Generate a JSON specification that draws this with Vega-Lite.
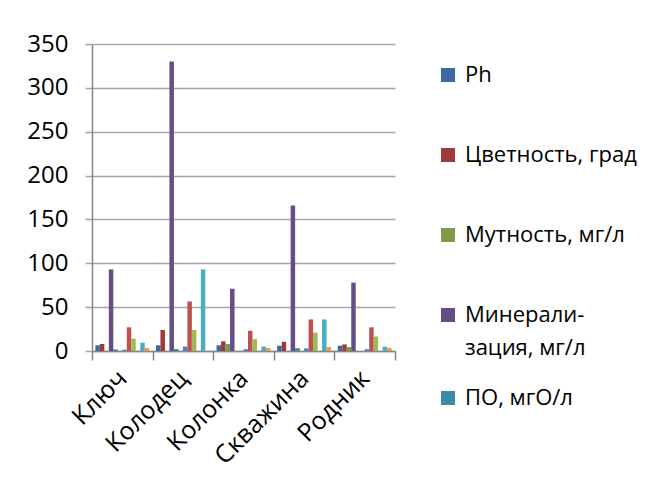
{
  "$schema": "https://vega.github.io/schema/vega-lite/v6.json",
  "width": 303,
  "height": 307,
  "autosize": {"type": "none"},
  "padding": {"left": 92, "top": 44, "right": 261, "bottom": 129},
  "background": "white",
  "data": {
    "values": [
      {"site": "Ключ", "param": "Ph", "value": 6.5},
      {"site": "Ключ", "param": "Цветность, град", "value": 8},
      {"site": "Ключ", "param": "Мутность, мг/л", "value": 0},
      {"site": "Ключ", "param": "Минерализация, мг/л", "value": 93},
      {"site": "Ключ", "param": "ПО, мгО/л", "value": 1.5},
      {"site": "Ключ", "param": "Нитриты, мг/л", "value": 0},
      {"site": "Ключ", "param": "Жесткость, мг-экв/л", "value": 1.5},
      {"site": "Ключ", "param": "Хлориды, мг/л", "value": 27},
      {"site": "Ключ", "param": "Сульфаты, мг/л", "value": 14},
      {"site": "Ключ", "param": "Железо, мг/л", "value": 0},
      {"site": "Ключ", "param": "Нитраты, мг/л", "value": 9.5},
      {"site": "Ключ", "param": "Аммоний, мг/л", "value": 3.4},

      {"site": "Колодец", "param": "Ph", "value": 6.5},
      {"site": "Колодец", "param": "Цветность, град", "value": 24},
      {"site": "Колодец", "param": "Мутность, мг/л", "value": 0},
      {"site": "Колодец", "param": "Минерализация, мг/л", "value": 330},
      {"site": "Колодец", "param": "ПО, мгО/л", "value": 2},
      {"site": "Колодец", "param": "Нитриты, мг/л", "value": 0},
      {"site": "Колодец", "param": "Жесткость, мг-экв/л", "value": 5},
      {"site": "Колодец", "param": "Хлориды, мг/л", "value": 56.5},
      {"site": "Колодец", "param": "Сульфаты, мг/л", "value": 24},
      {"site": "Колодец", "param": "Железо, мг/л", "value": 0},
      {"site": "Колодец", "param": "Нитраты, мг/л", "value": 93},
      {"site": "Колодец", "param": "Аммоний, мг/л", "value": 0},

      {"site": "Колонка", "param": "Ph", "value": 6.5},
      {"site": "Колонка", "param": "Цветность, град", "value": 11},
      {"site": "Колонка", "param": "Мутность, мг/л", "value": 8},
      {"site": "Колонка", "param": "Минерализация, мг/л", "value": 71},
      {"site": "Колонка", "param": "ПО, мгО/л", "value": 0},
      {"site": "Колонка", "param": "Нитриты, мг/л", "value": 0},
      {"site": "Колонка", "param": "Жесткость, мг-экв/л", "value": 2},
      {"site": "Колонка", "param": "Хлориды, мг/л", "value": 23},
      {"site": "Колонка", "param": "Сульфаты, мг/л", "value": 13.5},
      {"site": "Колонка", "param": "Железо, мг/л", "value": 0},
      {"site": "Колонка", "param": "Нитраты, мг/л", "value": 5},
      {"site": "Колонка", "param": "Аммоний, мг/л", "value": 3.4},

      {"site": "Скважина", "param": "Ph", "value": 6},
      {"site": "Скважина", "param": "Цветность, град", "value": 10.5},
      {"site": "Скважина", "param": "Мутность, мг/л", "value": 0},
      {"site": "Скважина", "param": "Минерализация, мг/л", "value": 166},
      {"site": "Скважина", "param": "ПО, мгО/л", "value": 3},
      {"site": "Скважина", "param": "Нитриты, мг/л", "value": 0},
      {"site": "Скважина", "param": "Жесткость, мг-экв/л", "value": 3},
      {"site": "Скважина", "param": "Хлориды, мг/л", "value": 36},
      {"site": "Скважина", "param": "Сульфаты, мг/л", "value": 21},
      {"site": "Скважина", "param": "Железо, мг/л", "value": 0},
      {"site": "Скважина", "param": "Нитраты, мг/л", "value": 36},
      {"site": "Скважина", "param": "Аммоний, мг/л", "value": 4.5},

      {"site": "Родник", "param": "Ph", "value": 6},
      {"site": "Родник", "param": "Цветность, град", "value": 7.5},
      {"site": "Родник", "param": "Мутность, мг/л", "value": 4.5},
      {"site": "Родник", "param": "Минерализация, мг/л", "value": 78},
      {"site": "Родник", "param": "ПО, мгО/л", "value": 0},
      {"site": "Родник", "param": "Нитриты, мг/л", "value": 0},
      {"site": "Родник", "param": "Жесткость, мг-экв/л", "value": 2},
      {"site": "Родник", "param": "Хлориды, мг/л", "value": 27},
      {"site": "Родник", "param": "Сульфаты, мг/л", "value": 16.5},
      {"site": "Родник", "param": "Железо, мг/л", "value": 0},
      {"site": "Родник", "param": "Нитраты, мг/л", "value": 5},
      {"site": "Родник", "param": "Аммоний, мг/л", "value": 3.4}
    ]
  },
  "encoding": {
    "x": {
      "field": "site",
      "type": "nominal",
      "sort": ["Ключ", "Колодец", "Колонка", "Скважина", "Родник"],
      "scale": {"paddingInner": 0, "paddingOuter": 0},
      "axis": {
        "title": null,
        "labelAngle": -45,
        "labelAlign": "right",
        "labelBaseline": "middle",
        "labelFont": "Open Sans",
        "labelFontSize": 25,
        "labelColor": "#000000",
        "labelPadding": 14,
        "tickBand": "extent",
        "tickSize": 9,
        "tickColor": "#888888",
        "tickWidth": 1.5,
        "domainColor": "#888888",
        "domainWidth": 1.5,
        "grid": false
      }
    },
    "xOffset": {
      "field": "param",
      "type": "nominal",
      "sort": [
        "Ph", "Цветность, град", "Мутность, мг/л", "Минерализация, мг/л", "ПО, мгО/л", "Нитриты, мг/л",
        "Жесткость, мг-экв/л", "Хлориды, мг/л", "Сульфаты, мг/л", "Железо, мг/л", "Нитраты, мг/л", "Аммоний, мг/л"
      ],
      "scale": {"paddingInner": 0, "paddingOuter": 0.75}
    },
    "y": {
      "field": "value",
      "type": "quantitative",
      "scale": {"domain": [0, 350], "nice": false},
      "axis": {
        "title": null,
        "values": [0, 50, 100, 150, 200, 250, 300, 350],
        "labelFont": "Open Sans",
        "labelFontSize": 24,
        "labelColor": "#000000",
        "labelPadding": 17,
        "tickSize": 7,
        "tickColor": "#A6A6A6",
        "tickWidth": 1.5,
        "domainColor": "#888888",
        "domainWidth": 1.5,
        "gridColor": "#A6A6A6",
        "gridWidth": 1.5
      }
    }
  },
  "layer": [
    {
      "mark": {"type": "bar", "stroke": null},
      "encoding": {
        "color": {
          "field": "param",
          "type": "nominal",
          "scale": {
            "domain": [
              "Ph", "Цветность, град", "Мутность, мг/л", "Минерализация, мг/л", "ПО, мгО/л", "Нитриты, мг/л",
              "Жесткость, мг-экв/л", "Хлориды, мг/л", "Сульфаты, мг/л", "Железо, мг/л", "Нитраты, мг/л", "Аммоний, мг/л"
            ],
            "range": [
              "#3C69A2", "#A03A38", "#7E9A48", "#654E88", "#378BA4", "#D9843E",
              "#4F81BD", "#C0504D", "#9BBB59", "#8064A2", "#4BACC6", "#F79646"
            ]
          },
          "legend": {
            "title": null,
            "values": ["Ph", "Цветность, град", "Мутность, мг/л", "Минерализация, мг/л"],
            "orient": "none",
            "legendX": 345,
            "legendY": 20,
            "padding": 0,
            "symbolType": "square",
            "symbolSize": 196,
            "symbolStrokeWidth": 0,
            "symbolOpacity": 1,
            "labelFont": "Open Sans",
            "labelFontSize": 22,
            "labelColor": "#000000",
            "labelOffset": 6,
            "labelLimit": 250,
            "rowPadding": 58,
            "labelBaseline": "middle",
            "labelExpr": "datum.label == 'Минерализация, мг/л' ? ['Минерали-', 'зация, мг/л'] : datum.label"
          }
        }
      }
    },
    {
      "transform": [{"filter": "datum.param == 'ПО, мгО/л'"}],
      "mark": {"type": "bar", "stroke": null},
      "encoding": {
        "fill": {
          "field": "param",
          "type": "nominal",
          "scale": {"domain": ["ПО, мгО/л"], "range": ["#378BA4"]},
          "legend": {
            "title": null,
            "orient": "none",
            "legendX": 345,
            "legendY": 343,
            "padding": 0,
            "symbolType": "square",
            "symbolSize": 196,
            "symbolStrokeWidth": 0,
            "symbolOpacity": 1,
            "labelFont": "Open Sans",
            "labelFontSize": 22,
            "labelColor": "#000000",
            "labelOffset": 6,
            "labelLimit": 250
          }
        }
      }
    }
  ],
  "config": {
    "view": {"stroke": null},
    "style": {"guide-label": {"lineHeight": 33}}
  }
}
